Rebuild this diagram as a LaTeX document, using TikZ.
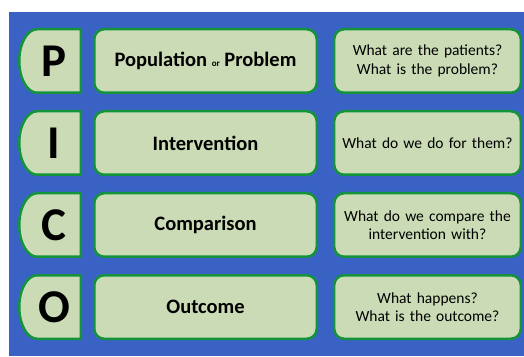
\documentclass[tikz,border=0pt]{standalone}
\usepackage{fontspec}
\setmainfont{Carlito}
\usetikzlibrary{positioning}

\definecolor{picoblue}{RGB}{58,98,196}
\definecolor{picogreen}{RGB}{20,148,58}
\definecolor{picofill}{RGB}{202,219,182}

\tikzset{
  letterbox/.style={draw=picogreen, line width=2.5pt, fill=picofill},
  letterfont/.style={font=\fontsize{47}{47}\selectfont\bfseries},
  termbox/.style={draw=picogreen, line width=2.5pt, fill=picofill,
    rounded corners=10pt, minimum width=222.5pt, minimum height=63.5pt,
    font=\fontsize{20.5}{24}\selectfont\bfseries},
  quesbox/.style={draw=picogreen, line width=2.5pt, fill=picofill,
    rounded corners=10pt, minimum width=186.5pt, minimum height=63.5pt,
    text width=180pt, align=center, font=\fontsize{15.5}{18.5}\selectfont}
}

\begin{document}
\begin{tikzpicture}[x=1pt, y=1pt]
  \useasboundingbox (0,0) rectangle (524,356);
  \fill[white]    (0,0) rectangle (524,356);
  \fill[picoblue] (9,0) rectangle (524,344);

  % one row for each letter
  \foreach \y/\l/\t/\q [count=\n] in {
      295/P/{Population {\fontsize{9}{9}\selectfont or} Problem}/{What are the patients?\\What is the problem?},
      213/I/{Intervention}/{What do we do for them?},
      131/C/{Comparison}/{What do we compare the\\intervention with?},
      49/O/{Outcome}/{What happens?\\What is the outcome?}} {
    \filldraw[letterbox] (80.75, \y+31.75) -- (37, \y+31.75)
      arc[start angle=90, end angle=270, x radius=17.75, y radius=31.75]
      -- (80.75, \y-31.75) -- cycle;
    \node[letterfont] (let\n) at (54, \y) {\l};
    \node[termbox] (term\n) at (205.5, \y) {\t};
    \node[quesbox] (ques\n) at (427.5, \y) {\q};
  }
\end{tikzpicture}
\end{document}
